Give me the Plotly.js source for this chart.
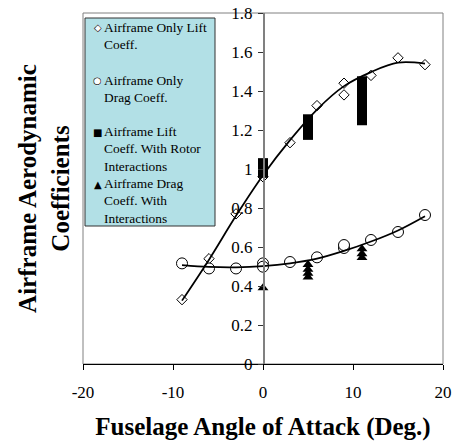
<!DOCTYPE html>
<html>
<head>
<meta charset="utf-8">
<script src="https://cdn.plot.ly/plotly-3.0.1.min.js"></script>
<style>html,body{margin:0;padding:0;background:#fff;}#chart{width:454px;height:444px;}</style>
</head>
<body>
<div id="chart"></div>
<script>
// Airframe only (wind tunnel) data
const liftOnlyAngle = [-9, -6, -3, 0, 3, 6, 9, 9, 12, 15, 18];
const liftOnlyCoeff = [0.33, 0.54, 0.77, 0.96, 1.135, 1.325, 1.38, 1.44, 1.48, 1.57, 1.535];
const dragOnlyAngle = [-9, -6, -3, 0, 0, 3, 6, 9, 9, 12, 15, 18];
const dragOnlyCoeff = [0.516, 0.49, 0.49, 0.516, 0.499, 0.523, 0.547, 0.595, 0.61, 0.636, 0.677, 0.764];
// Airframe with rotor interactions
const liftRotorAngle = [0, 0, 0, 0, 5, 5, 5, 5, 5, 11, 11, 11, 11, 11, 11, 11, 11];
const liftRotorCoeff = [0.98, 0.995, 1.01, 1.03, 1.175, 1.195, 1.215, 1.235, 1.255, 1.25, 1.27, 1.30, 1.33, 1.36, 1.38, 1.43, 1.45];
const dragRotorAngle = [0, 5, 5, 5, 5, 11, 11, 11];
const dragRotorCoeff = [0.39, 0.445, 0.465, 0.485, 0.51, 0.545, 0.565, 0.59];
// Trend curves
const fitAngle = [-9, -6, -3, 0, 3, 6, 9, 12, 15, 18];
const liftFit = [0.325, 0.535, 0.76, 0.968, 1.148, 1.305, 1.425, 1.497, 1.545, 1.54];
const dragFit = [0.507, 0.498, 0.496, 0.502, 0.516, 0.54, 0.58, 0.628, 0.685, 0.758];
// Tick labels
const xTickVals = [-20, -10, 0, 10, 20];
const xTickText = ['-20', '-10', '0', '10', '20'];
// Legend labels
const legendLabels = [
  'Airframe Only Lift<br>Coeff.',
  'Airframe Only<br>Drag Coeff.',
  'Airframe Lift<br>Coeff. With Rotor<br>Interactions',
  'Airframe Drag<br>Coeff. With<br>Interactions'
];
const xTitle = 'Fuselage Angle of Attack (Deg.)';
const yTitle = 'Airframe Aerodynamic<br>Coefficients';

const serif = 'Liberation Serif, Times New Roman, serif';
const traces = [
  {x: liftOnlyAngle, y: liftOnlyCoeff, name: 'Airframe Only Lift Coeff.', mode: 'markers', type: 'scatter',
   marker: {symbol: 'diamond', size: 8, color: '#fff', line: {color: '#000', width: 1}}},
  {x: dragOnlyAngle, y: dragOnlyCoeff, name: 'Airframe Only Drag Coeff.', mode: 'markers', type: 'scatter',
   marker: {symbol: 'circle', size: 11, color: '#fff', line: {color: '#000', width: 1}}},
  {x: liftRotorAngle, y: liftRotorCoeff, name: 'Airframe Lift Coeff. With Rotor Interactions', mode: 'markers', type: 'scatter',
   marker: {symbol: 'square', size: 10, color: '#000', line: {color: '#000', width: 0}}},
  {x: dragRotorAngle, y: dragRotorCoeff, name: 'Airframe Drag Coeff. With Interactions', mode: 'markers', type: 'scatter',
   marker: {symbol: 'triangle-up', size: 9.5, color: '#000', line: {color: '#000', width: 0}}},
  {x: fitAngle, y: liftFit, name: 'Lift trend', mode: 'lines', type: 'scatter', yaxis: 'y2',
   line: {color: '#000', width: 1.75, shape: 'spline'}},
  {x: fitAngle, y: dragFit, name: 'Drag trend', mode: 'lines', type: 'scatter', yaxis: 'y2',
   line: {color: '#000', width: 1.75, shape: 'spline'}}
];

// pixel helpers for legend placement (plot area 83..443 x 13..364)
const L = 83, R = 443, T = 13, B = 364;
const px = v => (v - L) / (R - L);
const py = v => (B - v) / (B - T);

const symbols = [
  {bg: '\u25C6', fg: '\u25C7', y: 27.3},
  {bg: '\u25CF', fg: '\u25CB', y: 80.7},
  {bg: null, fg: '\u25A0', y: 132.7},
  {bg: null, fg: '\u25B2', y: 184.3}
];
const entryCenters = [36.2, 89, 148.8, 201.2];

const annotations = [];
symbols.forEach(s => {
  if (s.bg) annotations.push({xref: 'paper', yref: 'paper', x: px(97.5), y: py(s.y), xanchor: 'center', yanchor: 'middle',
    text: s.bg, showarrow: false, font: {family: 'DejaVu Sans', size: 10, color: '#fff'}});
  annotations.push({xref: 'paper', yref: 'paper', x: px(97.5), y: py(s.y), xanchor: 'center', yanchor: 'middle',
    text: s.fg, showarrow: false, font: {family: 'DejaVu Sans', size: 10, color: '#000'}});
});
legendLabels.forEach((t, i) => {
  annotations.push({xref: 'paper', yref: 'paper', x: px(102), y: py(entryCenters[i]), xanchor: 'left', yanchor: 'middle',
    align: 'left', text: t, showarrow: false, font: {family: serif, size: 13.4, color: '#000'}});
});

const layout = {
  width: 454, height: 444,
  margin: {l: L, r: 454 - R, t: T, b: 444 - B},
  paper_bgcolor: '#fff', plot_bgcolor: '#fff',
  showlegend: false,
  xaxis: {range: [-20, 20], tickmode: 'array', tickvals: xTickVals, ticktext: xTickText,
    showgrid: false, zeroline: false,
    showline: true, linecolor: '#000', linewidth: 1, ticks: 'outside', ticklen: 5, tickcolor: '#000',
    ticklabelstandoff: 8,
    tickfont: {family: serif, size: 17, color: '#000'},
    title: {text: xTitle, font: {family: serif, size: 25, color: '#000', weight: 'bold'}, standoff: 16}},
  yaxis: {range: [0, 1.8], showgrid: false, zeroline: false, showline: false, showticklabels: false, ticks: '',
    title: {text: yTitle, font: {family: serif, size: 25, color: '#000', weight: 'bold'}, standoff: 5}},
  yaxis2: {range: [0, 1.8], overlaying: 'y', anchor: 'free', position: 0.5, side: 'left',
    tickmode: 'linear', dtick: 0.2, tick0: 0, showgrid: false, zeroline: false, showline: true, linecolor: '#808080', linewidth: 1.5,
    ticks: 'outside', ticklen: 5, tickcolor: '#333', ticklabelstandoff: 2,
    tickfont: {family: serif, size: 17, color: '#000'}},
  shapes: [
    {type: 'rect', xref: 'paper', yref: 'paper', x0: 0, x1: 1, y0: 0, y1: 1, line: {color: '#808080', width: 1}, layer: 'below'},
    {type: 'rect', xref: 'paper', yref: 'paper', x0: px(85), x1: px(215), y0: py(226), y1: py(18),
     fillcolor: 'rgb(178,224,230)', line: {color: '#333', width: 1}, layer: 'above'}
  ],
  annotations: annotations
};

Plotly.newPlot('chart', traces, layout, {staticPlot: true, displayModeBar: false});
</script>
</body>
</html>
